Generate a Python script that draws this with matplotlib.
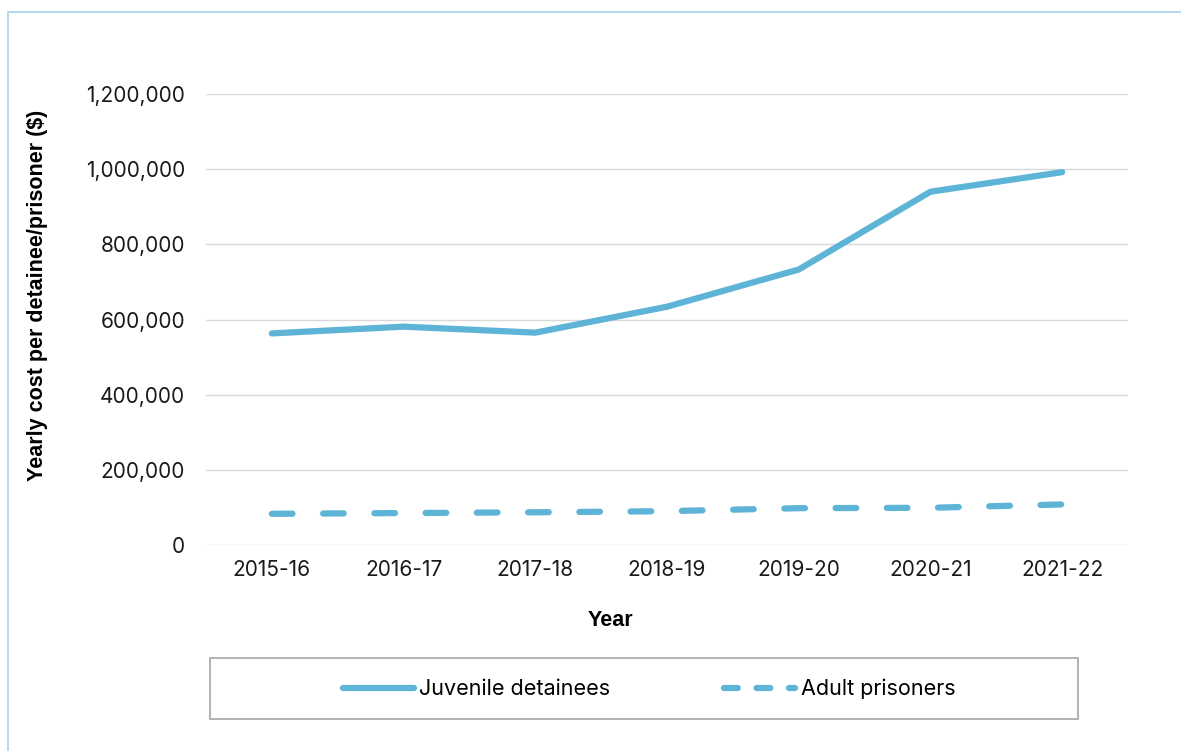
"""Yearly cost per juvenile detainee vs adult prisoner, 2015-16 to 2021-22."""
import matplotlib as mpl
import matplotlib.pyplot as plt
from matplotlib.patches import Rectangle
from matplotlib.lines import Line2D
from matplotlib.ticker import FuncFormatter

YEARS = ["2015-16", "2016-17", "2017-18", "2018-19", "2019-20", "2020-21", "2021-22"]
JUVENILE = [563000, 581000, 565000, 634000, 733000, 940000, 992000]
ADULT = [83000, 85000, 87000, 90000, 98000, 99000, 108000]
Y_TICKS = [0, 200000, 400000, 600000, 800000, 1000000, 1200000]

LINE_COLOR = "#5EB4D7"
GRID_COLOR = "#D9D9D9"
FRAME_COLOR = "#B4DAF0"
W, H = 1181, 751


def px(x, y):
    """Pixel position (from top-left) to figure fraction."""
    return x / W, 1 - y / H


def draw(path):
    mpl.rcParams.update({
        "font.family": ["Inter", "DejaVu Sans"],
        "font.size": 15,
        "figure.facecolor": "white", "axes.facecolor": "white",
    })
    fig = plt.figure(figsize=(W / 100, H / 100), dpi=100)
    left, top = px(206, 94)
    right, bottom = px(1128, 545)
    ax = fig.add_axes([left, bottom, right - left, top - bottom])

    x = range(len(YEARS))
    ax.plot(x, JUVENILE, color=LINE_COLOR, linewidth=4.5,
            solid_capstyle="round", solid_joinstyle="round", zorder=3)
    ax.plot(x, ADULT, color=LINE_COLOR, linewidth=4.5, dashes=(3.3, 4.9),
            dash_capstyle="round", zorder=3)

    ax.set_xlim(-0.5, len(YEARS) - 0.5)
    ax.set_ylim(0, 1200000)
    ax.set_xticks(list(x), YEARS)
    ax.set_yticks(Y_TICKS)
    ax.yaxis.set_major_formatter(FuncFormatter(lambda v, _: f"{int(v):,}"))
    ax.tick_params(length=0, labelsize=15, colors="#1A1A1A")
    ax.tick_params(axis="y", pad=15)
    ax.tick_params(axis="x", pad=11)
    ax.grid(axis="y", color=GRID_COLOR, linewidth=1.0)
    ax.set_axisbelow(True)
    for spine in ax.spines.values():
        spine.set_visible(False)

    bold = {"family": ["Liberation Sans", "DejaVu Sans"], "weight": "bold", "size": 15.5}
    fig.text(*px(38, 295), "Yearly cost per detainee/prisoner ($)", rotation=90,
             ha="center", va="center", **bold)
    fig.text(*px(610, 621), "Year", ha="center", va="center", **bold)

    # outer frame: left and top edges only
    fig.add_artist(Line2D([8 / W, 8 / W, 1.0], [0.0, 1 - 12 / H, 1 - 12 / H],
                          transform=fig.transFigure, color=FRAME_COLOR, linewidth=1.5))

    # legend box
    x0, y1 = px(210, 719)
    x1, y0 = px(1078, 658)
    fig.add_artist(Rectangle((x0, y1), x1 - x0, y0 - y1, transform=fig.transFigure,
                             facecolor="white", edgecolor="#A6A6A6", linewidth=1.2))
    handles = [
        Line2D([], [], color=LINE_COLOR, linewidth=4.5, solid_capstyle="round"),
        Line2D([], [], color=LINE_COLOR, linewidth=4.5, dashes=(2.2, 3.0),
               dash_capstyle="round"),
    ]
    fig.legend(handles, ["Juvenile detainees", "Adult prisoners"],
               loc="center", bbox_to_anchor=px(649, 689), ncol=2, frameon=False,
               fontsize=15.5, handlelength=3.3, handletextpad=0.25, columnspacing=5.3)

    fig.savefig(path, dpi=100, facecolor="white")
    plt.close(fig)


if __name__ == "__main__":
    draw("out.png")
